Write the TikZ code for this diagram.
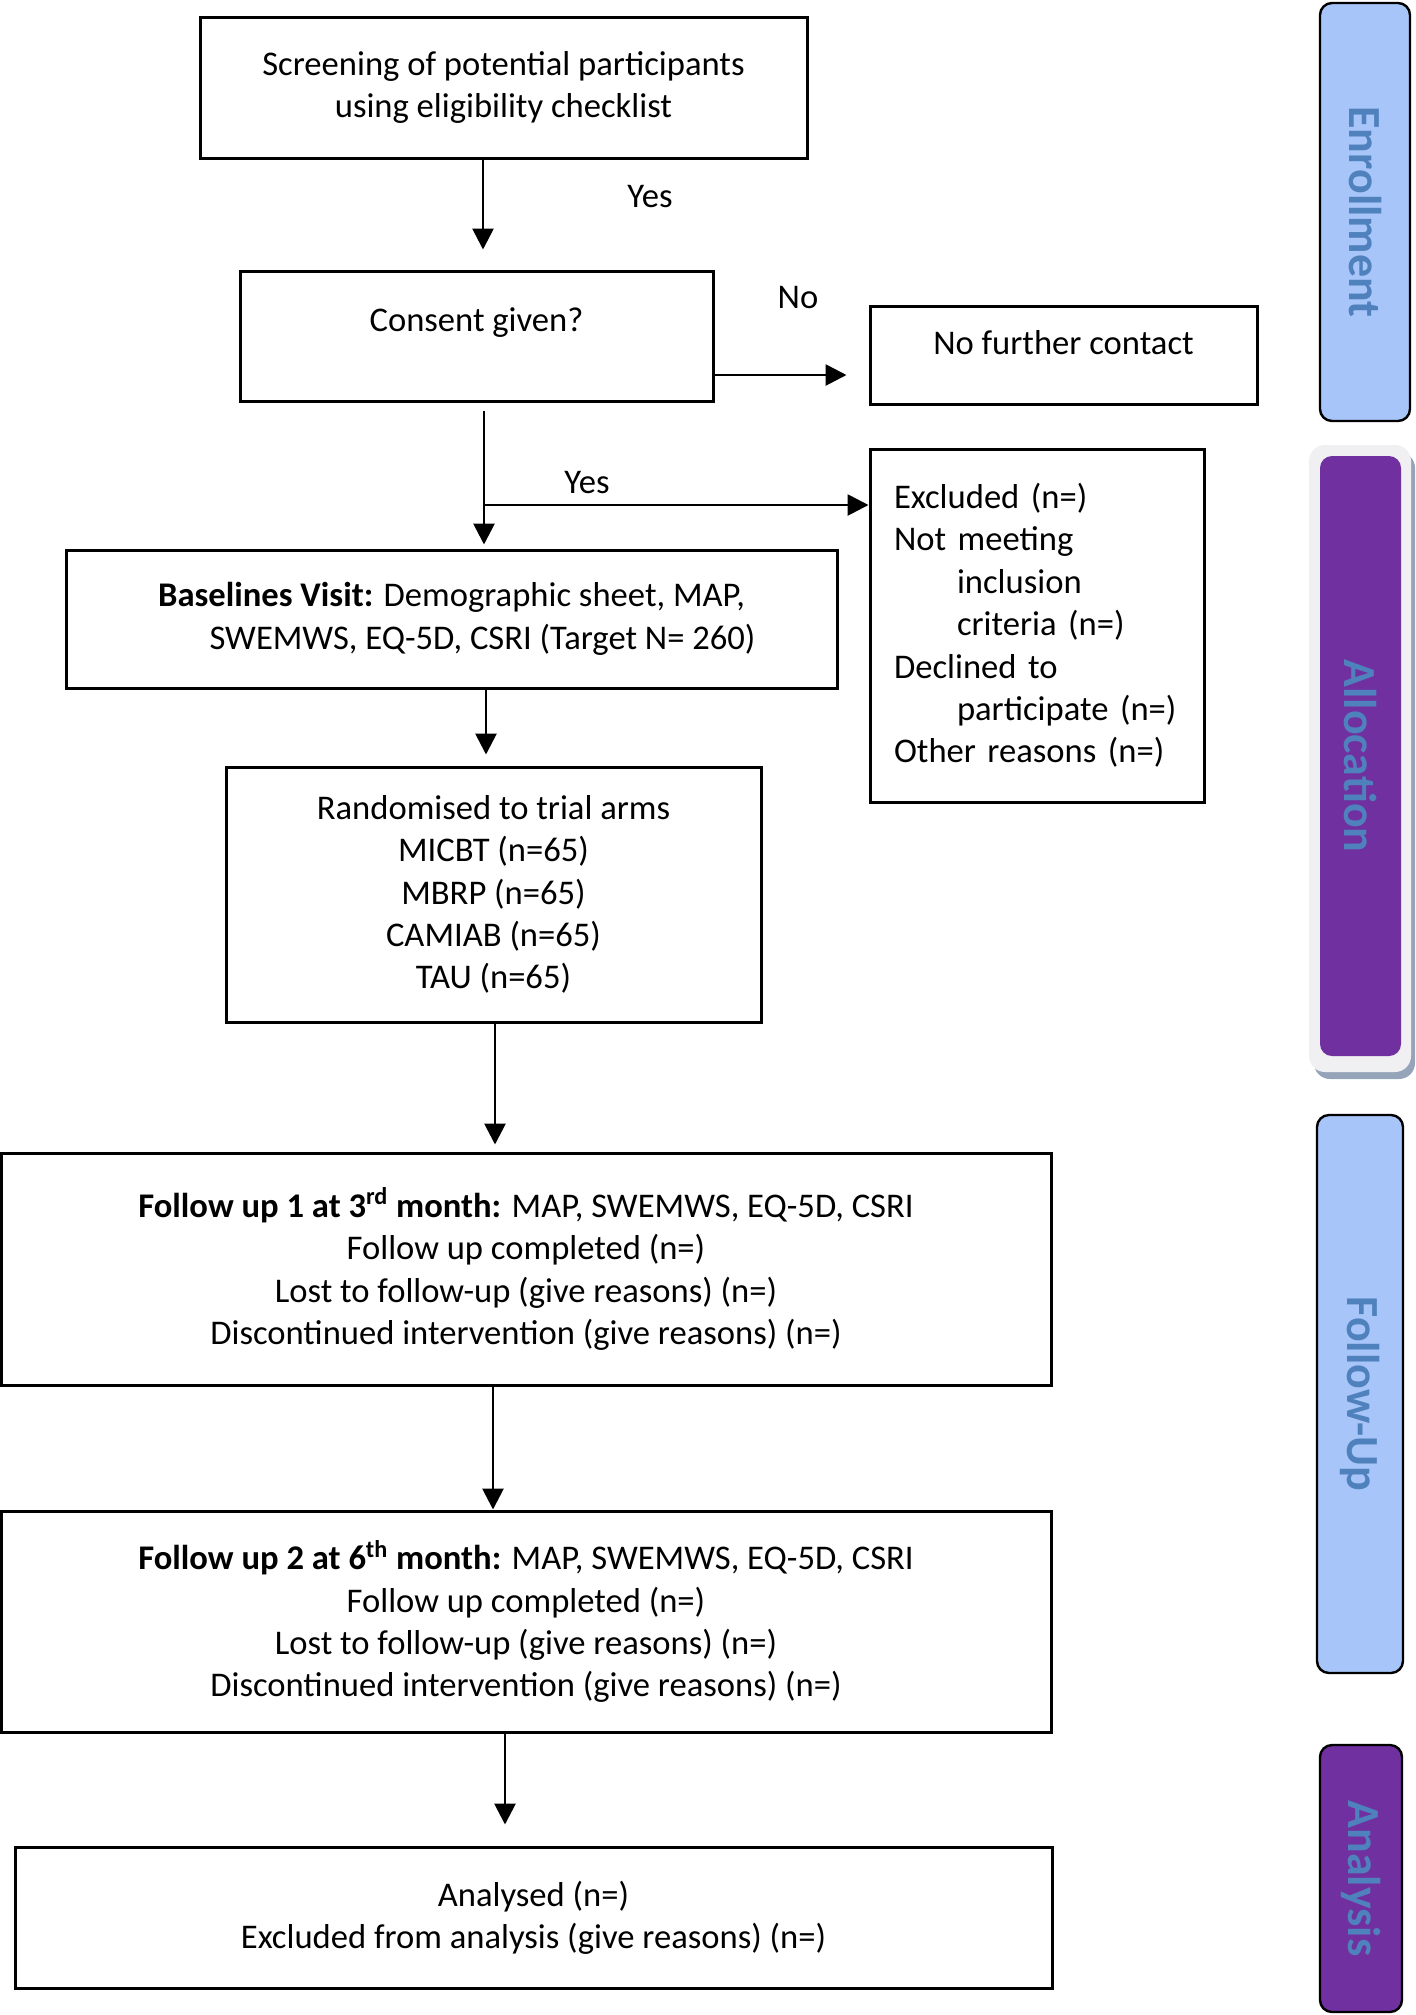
\documentclass[tikz,border=0pt]{standalone}
\usepackage{fontspec}
\setmainfont{Carlito}
\usepackage{tikz}
\usetikzlibrary{arrows.meta, positioning, calc}

\definecolor{phaseblue}{RGB}{168,197,250}
\definecolor{phasepurple}{RGB}{112,48,160}
\definecolor{phasetext}{RGB}{79,129,189}
\definecolor{framegrey}{RGB}{240,240,242}
\definecolor{shadowgrey}{RGB}{150,164,186}

\begin{document}
\begin{tikzpicture}[
		x=0.5pt, y=-0.5pt,
		every node/.style={font=\fontsize{17.3}{21.2}\selectfont, align=center},
		box/.style={draw, line width=1.5pt, inner sep=0pt},
		arrow/.style={-{Triangle[length=10.5pt, width=10.5pt]}, line width=1.4pt},
		phase/.style={draw, line width=1.2pt, rounded corners=6pt, rotate=-90, text=phasetext, font=\fontsize{23}{27}\selectfont\bfseries}
		]
		\useasboundingbox (0,0) rectangle (1415,2015);
		
		% Nodes
		\node[box, minimum width=303.5pt, minimum height=70.5pt] (screen) at (503.5,87.5) {Screening of potential participants\\using eligibility checklist};
		\node[box, minimum width=236.5pt, minimum height=65pt, text height=13pt, text depth=18pt] (consent) at (476.5,336) {Consent given?};
		\node[box, minimum width=193.5pt, minimum height=49pt, text height=13pt, text depth=14pt] (nocontact) at (1063.5,355) {No further contact};
		\node[box, minimum width=167pt, minimum height=176.5pt, text width=143pt, inner xsep=12pt, align=left] (excluded) at (1037,625.5) {Excluded (n=)\\Not meeting\\\hspace*{31.5pt}inclusion\\\hspace*{31.5pt}criteria (n=)\\Declined to\\\hspace*{31.5pt}participate (n=)\\Other reasons (n=)};
		\node[box, minimum width=385.5pt, minimum height=69pt] (baseline) at (451.5,619) {\textbf{Baselines Visit:} Demographic sheet, MAP,\\\hspace*{31pt}SWEMWS, EQ-5D, CSRI (Target N= 260)};
		\node[box, minimum width=267.5pt, minimum height=127.5pt] (random) at (493.5,894.5) {\rule{0pt}{8pt}Randomised to trial arms\\MICBT (n=65)\\MBRP (n=65)\\CAMIAB (n=65)\\TAU (n=65)};
		\node[box, minimum width=525pt, minimum height=116pt] (fu1) at (526,1269) {\textbf{Follow up 1 at 3\textsuperscript{rd} month:} MAP, SWEMWS, EQ-5D, CSRI\\Follow up completed (n=)\\Lost to follow-up (give reasons) (n=)\\Discontinued intervention (give reasons) (n=)};
		\node[box, minimum width=525pt, minimum height=110.5pt] (fu2) at (526,1621.5) {\textbf{Follow up 2 at 6\textsuperscript{th} month:} MAP, SWEMWS, EQ-5D, CSRI\\Follow up completed (n=)\\Lost to follow-up (give reasons) (n=)\\Discontinued intervention (give reasons) (n=)};
		\node[box, minimum width=518.5pt, minimum height=70.5pt] (analysed) at (533.5,1917.5) {Analysed (n=)\\Excluded from analysis (give reasons) (n=)};
		
		% Branch labels
		\node (yes1) at (650,197) {Yes};
		\node (no) at (798,298) {No};
		\node (yes2) at (587,483) {Yes};
		
		% Phase bars
		\node[phase, fill=phaseblue, minimum width=209pt, minimum height=45pt] (enrol) at (1365,212) {Enrollment};
		\fill[shadowgrey, rounded corners=8pt] (1314,452) rectangle (1415,1079);
		\fill[framegrey, rounded corners=8pt] (1309,445) rectangle (1411,1072);
		\node[phase, draw=none, fill=phasepurple, minimum width=300pt, minimum height=40.5pt] (alloc) at (1360.5,756) {Allocation};
		\node[phase, fill=phaseblue, minimum width=279pt, minimum height=43pt] (followup) at (1360,1394) {Follow-Up};
		\node[phase, fill=phasepurple, minimum width=133.5pt, minimum height=41pt] (analysis) at (1361,1878.5) {Analysis};
		
		% Flow
		\draw[arrow, shorten >=10pt] (483,0 |- screen.south) -- (483,0 |- consent.north);
		\draw[arrow, shorten >=11pt] (consent.east |- 0,375) -- (nocontact.west |- 0,375);
		\draw[arrow, shorten <=4pt, shorten >=2pt] (484,0 |- consent.south) -- (484,0 |- baseline.north);
		\coordinate (split) at (484,505);
		\draw[arrow] (split) -- (excluded.west |- split);
		\draw[arrow, shorten >=5.5pt] (486,0 |- baseline.south) -- (486,0 |- random.north);
		\draw[arrow, shorten >=3.5pt] (495,0 |- random.south) -- (495,0 |- fu1.north);
		\draw[arrow] (493,0 |- fu1.south) -- (493,0 |- fu2.north);
		\draw[arrow, shorten >=10.5pt] (505,0 |- fu2.south) -- (505,0 |- analysed.north);
		
	\end{tikzpicture}
\end{document}
